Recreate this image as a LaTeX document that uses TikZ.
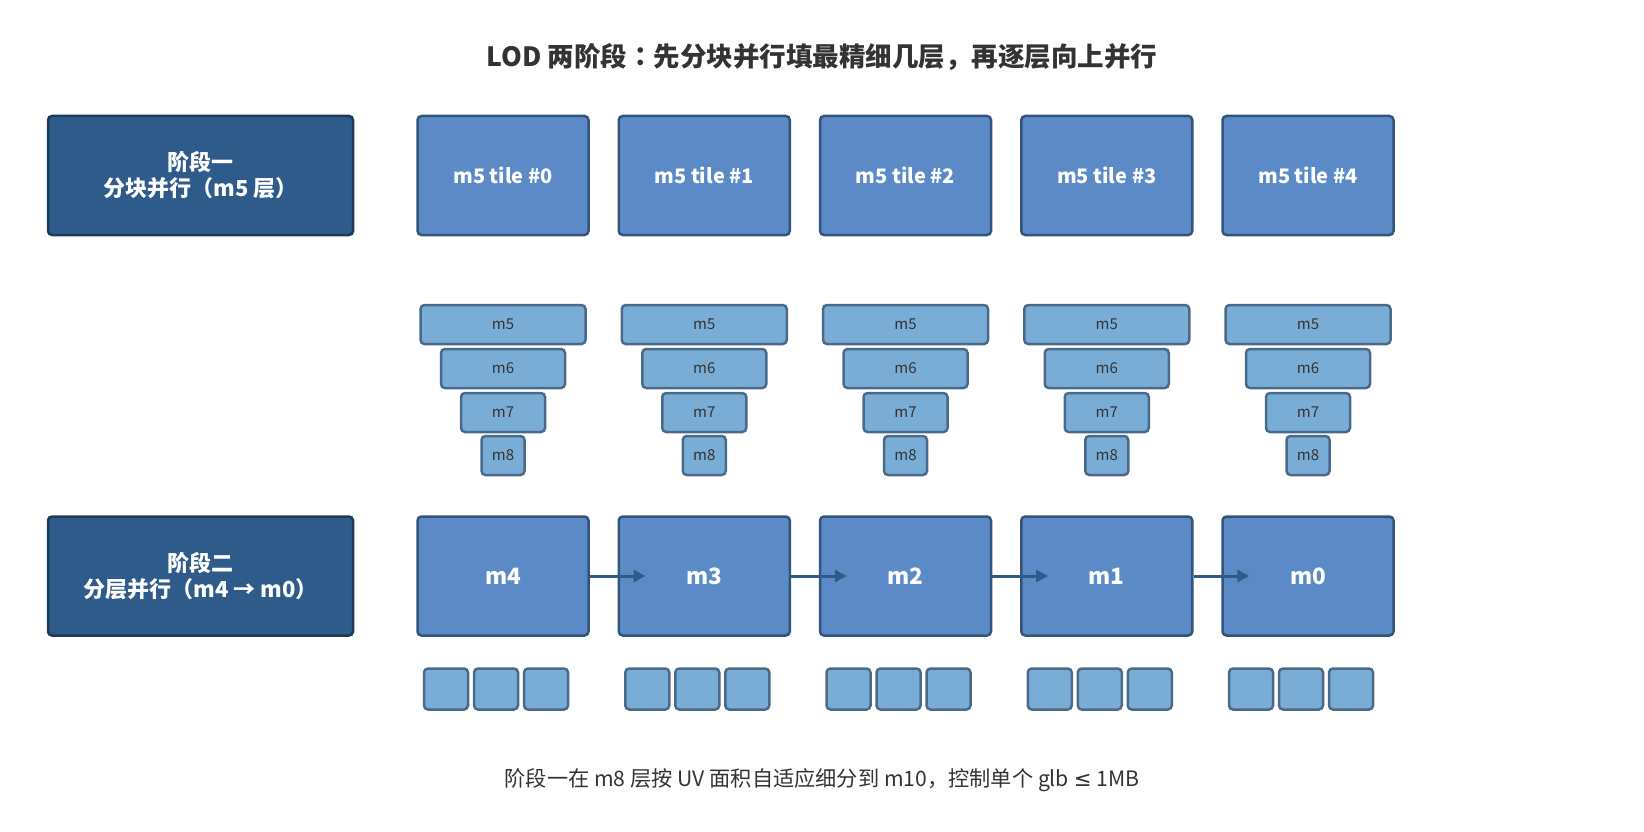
\documentclass[tikz,border=0pt]{standalone}
\usepackage{fontspec}
\setmainfont{Noto Sans CJK SC}
\newfontfamily\jpfont{Noto Sans CJK JP}
\newfontfamily\symfont{DejaVu Sans}
\usetikzlibrary{arrows.meta}
\definecolor{phaseF}{HTML}{2E5B8A}
\definecolor{phaseB}{HTML}{1E3A57}
\definecolor{tileF}{HTML}{5B8AC6}
\definecolor{tileB}{HTML}{34557A}
\definecolor{layF}{HTML}{7AADD6}
\definecolor{layB}{HTML}{4A6A8A}
\definecolor{textD}{HTML}{333333}
\definecolor{arrowC}{HTML}{2E5B8A}
\begin{document}
\begin{tikzpicture}[x=1pt,y=-1pt,
 phase/.style={draw=phaseB, fill=phaseF, line width=2.5pt, rounded corners=4pt, minimum width=305pt, minimum height=119pt, text=white, font=\fontsize{22}{26}\selectfont\bfseries, align=center, inner sep=0pt},
 tile/.style={draw=tileB, fill=tileF, line width=2.5pt, rounded corners=4pt, minimum width=171pt, minimum height=119pt, text=white, font=\fontsize{20}{24}\selectfont\bfseries, inner sep=0pt},
 level/.style={tile, font=\fontsize{22.5}{27}\selectfont\bfseries},
 lay/.style={draw=layB, fill=layF, line width=2.5pt, rounded corners=4pt, minimum height=39pt, text=textD, font=\fontsize{15}{18}\selectfont, inner sep=0pt},
 cell/.style={draw=layB, fill=layF, line width=2.5pt, rounded corners=4pt, minimum width=44pt, minimum height=41pt, inner sep=0pt},
 flow/.style={draw=arrowC, line width=3pt, -{Triangle[length=12pt,width=12pt]}},
 ttl/.style={text=textD, font=\fontsize{26.5}{30}\selectfont\bfseries},
 foot/.style={text=textD, font=\fontsize{21.2}{25}\selectfont}
]
\useasboundingbox (0,0) rectangle (1644,832);
\node[ttl] (title) at (822,57) {LOD 两阶段{\jpfont ：}先分块并行填最精细几层，再逐层向上并行};
\node[phase] (p1) at (200.5,175.5) {阶段一\\分块并行（m5 层）};
\node[phase] (p2) at (200.5,576) {阶段二\\分层并行（m4 → m0）};
\foreach \i in {0,...,4}{
  \pgfmathsetmacro{\cx}{503+201.25*\i}
  \node[tile] (t\i) at (\cx,175.5) {m5 tile \#\i};
  \node[lay, minimum width=165pt] (a\i) at (\cx,324.5) {m5};
  \node[lay, minimum width=124pt] (b\i) at (\cx,368.5) {m6};
  \node[lay, minimum width=84pt] (c\i) at (\cx,412.5) {m7};
  \node[lay, minimum width=43pt] (d\i) at (\cx,455.5) {m8};
  \node[cell] (s\i a) at (\cx-57,689) {};
  \node[cell] (s\i b) at (\cx-7,689) {};
  \node[cell] (s\i c) at (\cx+43,689) {};
}
\foreach \i/\lbl in {0/m4,1/m3,2/m2,3/m1,4/m0}{
  \pgfmathsetmacro{\cx}{503+201.25*\i}
  \node[level] (L\i) at (\cx,576) {\lbl};
}
\foreach \i/\j in {0/1,1/2,2/3,3/4}{
  \draw[flow] (L\i.east) -- ([xshift=28pt]L\j.west);
}
\node[foot] (footer) at (822,780) {阶段一在 m8 层按 UV 面积自适应细分到 m10，控制单个 glb {\symfont ≤} 1MB};
\end{tikzpicture}
\end{document}
